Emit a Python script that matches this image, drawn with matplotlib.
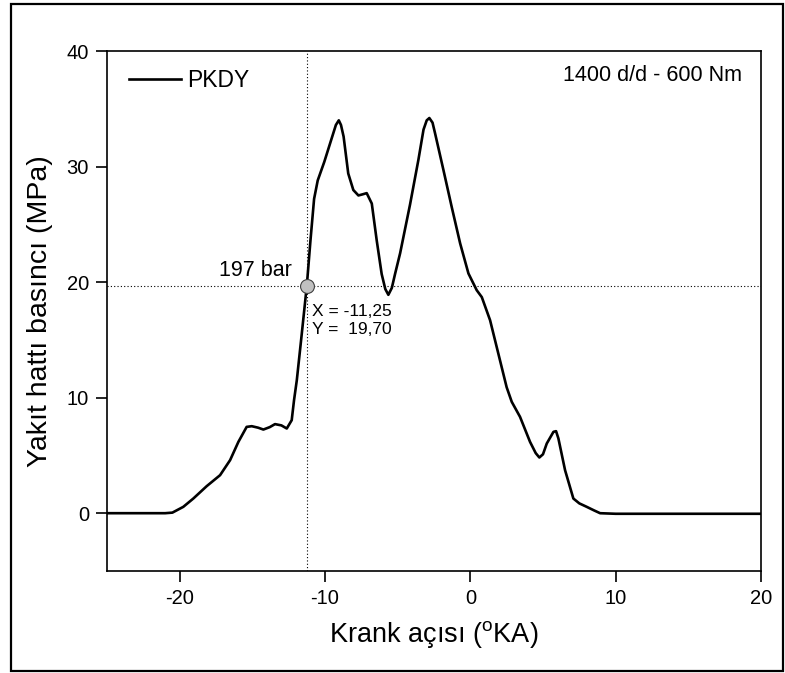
import matplotlib
matplotlib.use("Agg")
import matplotlib.pyplot as plt
from matplotlib.patches import Rectangle

plt.rcParams['font.family'] = ['Liberation Sans', 'DejaVu Sans']
plt.rcParams['mathtext.fontset'] = 'custom'
plt.rcParams['mathtext.rm'] = 'Liberation Sans'
plt.rcParams['axes.unicode_minus'] = False

# Data (crank angle in deg, fuel line pressure in MPa)
crank_angle = [-25, -21, -20.5, -19.75, -19.06, -18.14, -17.22, -16.53, -15.96, -15.39,
               -15.04, -14.6, -14.24, -13.8, -13.44, -13.0, -12.63, -12.29, -12.13, -11.94,
               -11.6, -11.25, -11.0, -10.75, -10.5, -10.05, -9.5, -9.25, -9.05, -8.9,
               -8.72, -8.4, -8.05, -7.7, -7.4, -7.13, -6.78, -6.44, -6.1, -5.85,
               -5.64, -5.4, -5.18, -4.83, -4.15, -3.57, -3.22, -3.0, -2.82, -2.6,
               -2.43, -1.85, -1.28, -0.7, -0.13, 0.44, 0.79, 1.36, 1.93, 2.5,
               2.85, 3.42, 4.11, 4.5, 4.75, 5.0, 5.26, 5.72, 5.9, 6.06,
               6.52, 7.09, 7.5, 8.01, 8.5, 8.93, 10, 20]
pressure = [0, 0, 0.05, 0.55, 1.27, 2.34, 3.29, 4.59, 6.17, 7.47,
            7.53, 7.4, 7.24, 7.45, 7.71, 7.6, 7.33, 8.05, 9.78, 11.5,
            15.5, 19.7, 23.6, 27.2, 28.8, 30.4, 32.6, 33.6, 34.0, 33.6,
            32.6, 29.4, 27.97, 27.5, 27.6, 27.7, 26.8, 23.6, 20.7, 19.4,
            18.9, 19.5, 20.7, 22.5, 26.7, 30.6, 33.2, 34.0, 34.2, 33.8,
            32.9, 29.7, 26.5, 23.35, 20.75, 19.3, 18.7, 16.7, 13.8, 10.9,
            9.64, 8.34, 6.17, 5.2, 4.82, 5.1, 6.03, 7.04, 7.1, 6.47,
            3.72, 1.27, 0.85, 0.55, 0.25, 0.0, -0.05, -0.05]

point_x = -11.25
point_y = 19.70

x_ticks = [-20, -10, 0, 10, 20]
y_ticks = [0, 10, 20, 30, 40]

fig = plt.figure(figsize=(7.85, 6.73), dpi=100)
ax = fig.add_axes([0.1363, 0.1516, 0.8331, 0.7726])

ax.axvline(point_x, color='black', linestyle=(0, (1, 2)), linewidth=0.8, zorder=1)
ax.axhline(point_y, color='black', linestyle=(0, (1, 2)), linewidth=0.8, zorder=1)

ax.plot(crank_angle, pressure, color='black', linewidth=1.9, solid_joinstyle='round',
        label='PKDY', zorder=2)
ax.plot([point_x], [point_y], 'o', markersize=10, markerfacecolor='#c0c0c0',
        markeredgecolor='#404040', markeredgewidth=0.8, zorder=3)

ax.set_xlim(-25, 20)
ax.set_ylim(-5, 40)
ax.set_xticks(x_ticks)
ax.set_yticks(y_ticks)
ax.tick_params(direction='out', length=8, width=1.2, labelsize=14.5, pad=5)
for s in ax.spines.values():
    s.set_linewidth(1.2)

ax.set_xlabel(r'Krank açısı ($^{\mathrm{o}}$KA)', fontsize=19.5, labelpad=8)
ax.set_ylabel('Yakıt hattı basıncı (MPa)', fontsize=20.5, labelpad=10)

leg = ax.legend(loc='center left', frameon=False, fontsize=16.5, handlelength=2.25,
                handletextpad=0.3, borderaxespad=0, borderpad=0,
                bbox_to_anchor=(22 / 654, 1 - 29.7 / 520))

ax.text(0.971, 0.952, '1400 d/d - 600 Nm', transform=ax.transAxes, ha='right',
        va='center', fontsize=15.5)
ax.text(-12.27, 21.04, '197 bar', ha='right', va='center', fontsize=15.5)
ax.text(-10.89, 16.67, 'X = -11,25\nY =  19,70', ha='left', va='center',
        fontsize=12.5, linespacing=1.2)

fig.patches.append(Rectangle((11 / 785, 2 / 673), 772 / 785, 667 / 673,
                             transform=fig.transFigure, fill=False,
                             edgecolor='black', linewidth=1.6))

fig.savefig('out.png', dpi=100)
